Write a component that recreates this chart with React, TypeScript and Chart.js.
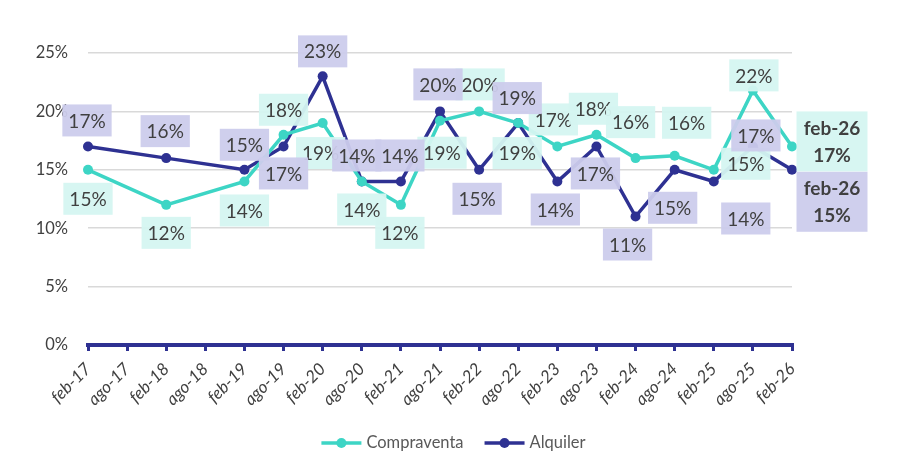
import { useEffect, useRef } from "react";
import { Chart, registerables, ChartConfiguration, Plugin } from "chart.js";

Chart.register(...registerables);

// half-year periods on the x axis
const categories = [
  "feb-17", "ago-17", "feb-18", "ago-18", "feb-19", "ago-19", "feb-20", "ago-20",
  "feb-21", "ago-21", "feb-22", "ago-22", "feb-23", "ago-23", "feb-24", "ago-24",
  "feb-25", "ago-25", "feb-26",
];

// yields in %, null where there is no reading
const compraventa = [15, null, 12, null, 14, 18, 19, 14, 12, 19.2, 20, 19, 17, 18, 16, 16.2, 15, 21.8, 17];
const alquiler = [17, null, 16, null, 15, 17, 23, 14, 14, 20, 15, 19, 14, 17, 11, 15, 14, 17, 15];

const yTicks = [0, 5, 10, 15, 20, 25];

const TEAL = "#3DD5C5";
const NAVY = "#2E3192";
const TEAL_BOX = "rgba(213, 245, 241, 0.95)";
const NAVY_BOX = "rgba(204, 204, 236, 0.95)";
const TEXT = "#404040";

// label placement relative to each point [dx, dy] (layout only)
const compraventaLabelPos: ([number, number] | null)[] = [
  [0, 29], null, [0, 28], null, [0, 29], [0, -25], [-2, 30], [0, 28], [-1, 28], [2, 32],
  [1, -27], [-1, 30], [-4, -27], [-3, -26], [-5, -36], [12, -33], [32, -6], [1, -15], [40, -5],
];
const alquilerLabelPos: ([number, number] | null)[] = [
  [-1, -26], null, [-1, -27], null, [0, -25], [0, 27], [0, -25], [-5, -26], [-1, -26], [-2, -27],
  [-2, 29], [-1, -25], [-2, 28], [-1, 27], [-8, 28], [-2, 38], [32, 37], [3, -11], [40, 32],
];

const fmt = (v: number) => `${Math.round(v)}%`;

const boxLabels: Plugin<"line"> = {
  id: "boxLabels",
  afterDatasetsDraw(chart) {
    const ctx = chart.ctx;
    const positions = [compraventaLabelPos, alquilerLabelPos];
    const fills = [TEAL_BOX, NAVY_BOX];
    chart.data.datasets.forEach((ds, di) => {
      const meta = chart.getDatasetMeta(di);
      meta.data.forEach((pt, i) => {
        const v = ds.data[i] as number | null;
        const off = positions[di][i];
        if (v == null || !off) return;
        const last = i === ds.data.length - 1;
        const lines = last ? [categories[i], fmt(v)] : [fmt(v)];
        const lineH = last ? 27 : 26;
        ctx.save();
        ctx.font = `${last ? "bold " : ""}19px Lato`;
        const w = last ? 71 : Math.max(...lines.map((l) => ctx.measureText(l).width)) + 12;
        const h = lines.length * lineH + 6;
        const cx = pt.x + off[0];
        const cy = pt.y + off[1];
        ctx.fillStyle = fills[di];
        ctx.fillRect(cx - w / 2, cy - h / 2, w, h);
        ctx.fillStyle = TEXT;
        ctx.textAlign = "center";
        ctx.textBaseline = "middle";
        lines.forEach((l, li) => {
          ctx.fillText(l, cx, cy - h / 2 + 3 + lineH * (li + 0.5) + 1);
        });
        ctx.restore();
      });
    });
  },
};

// legend centred on the whole canvas, Excel style: line with a dot
const bottomLegend: Plugin<"line"> = {
  id: "bottomLegend",
  afterDraw(chart) {
    const ctx = chart.ctx;
    ctx.save();
    ctx.font = "16.5px Lato";
    const items = chart.data.datasets.map((ds) => ({
      text: ds.label as string,
      color: ds.borderColor as string,
      w: 45 + ctx.measureText(ds.label as string).width,
    }));
    const gap = 21;
    const total = items.reduce((s, it) => s + it.w, 0) + gap * (items.length - 1);
    let x = chart.width / 2 - total / 2;
    const y = 443;
    items.forEach((it) => {
      ctx.strokeStyle = it.color;
      ctx.lineWidth = 3.5;
      ctx.beginPath();
      ctx.moveTo(x, y);
      ctx.lineTo(x + 40, y);
      ctx.stroke();
      ctx.fillStyle = it.color;
      ctx.beginPath();
      ctx.arc(x + 20, y, 5, 0, Math.PI * 2);
      ctx.fill();
      ctx.fillStyle = "#595959";
      ctx.textAlign = "left";
      ctx.textBaseline = "middle";
      ctx.fillText(it.text, x + 45, y);
      x += it.w + gap;
    });
    ctx.restore();
  },
};

export default function App() {
  const canvasRef = useRef<HTMLCanvasElement | null>(null);

  useEffect(() => {
    document.body.style.margin = "0";
    if (!canvasRef.current) return;
    const ctx = canvasRef.current.getContext("2d");
    if (!ctx) return;

    const config: ChartConfiguration<"line"> = {
      type: "line",
      data: {
        labels: categories,
        datasets: [
          {
            label: "Compraventa",
            data: compraventa,
            borderColor: TEAL,
            backgroundColor: TEAL,
            pointBackgroundColor: TEAL,
            borderWidth: 3.5,
            pointRadius: 5,
            pointBorderWidth: 0,
            spanGaps: true,
          },
          {
            label: "Alquiler",
            data: alquiler,
            borderColor: NAVY,
            backgroundColor: NAVY,
            pointBackgroundColor: NAVY,
            borderWidth: 3.5,
            pointRadius: 5,
            pointBorderWidth: 0,
            spanGaps: true,
          },
        ],
      },
      options: {
        responsive: true,
        maintainAspectRatio: false,
        animation: false,
        layout: { padding: { top: 53, right: 115, left: 0, bottom: 45 } },
        plugins: {
          tooltip: { enabled: false },
          legend: { display: false },
        },
        scales: {
          x: {
            grid: {
              drawOnChartArea: false,
              drawTicks: true,
              tickLength: 6,
              color: NAVY,
              lineWidth: 3,
            },
            border: { color: NAVY, width: 4 },
            ticks: {
              autoSkip: false,
              maxRotation: 45,
              minRotation: 45,
              padding: 8,
              color: TEXT,
              font: { family: "Lato", size: 17, style: "italic" },
            },
            afterFit: (scale) => {
              scale.height = 78;
            },
          },
          y: {
            min: 0,
            max: 25,
            afterBuildTicks: (scale) => {
              scale.ticks = yTicks.map((v) => ({ value: v }));
            },
            grid: { color: "#d9d9d9", lineWidth: 1.5, drawTicks: false },
            border: { display: false },
            ticks: {
              padding: 20,
              color: TEXT,
              font: { family: "Lato", size: 16.5 },
              callback: (v) => `${v}%`,
            },
            afterFit: (scale) => {
              scale.width = 88;
            },
          },
        },
      },
      plugins: [boxLabels, bottomLegend],
    };

    const chart = new Chart(ctx, config);
    return () => {
      chart.destroy();
    };
  }, []);

  return (
    <div style={{ width: 907, height: 468, position: "relative", background: "#fff" }}>
      <canvas ref={canvasRef}></canvas>
    </div>
  );
}
